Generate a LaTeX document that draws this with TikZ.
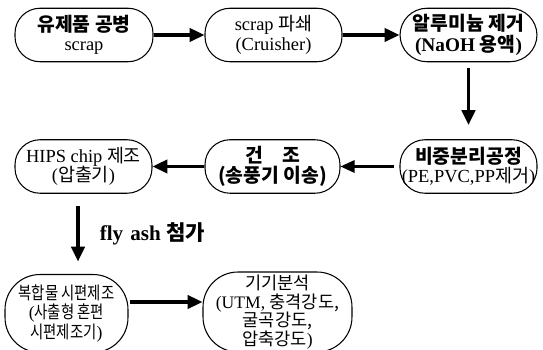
\documentclass[tikz,border=0pt]{standalone}
\usepackage{fontspec}
\setmainfont{Liberation Serif}
\newfontfamily\kr{Noto Sans CJK KR}
\newfontfamily\krn[FakeStretch=0.82]{Noto Sans CJK KR}
\usetikzlibrary{arrows.meta}
\newcommand\nodesize[2]{\fontsize{#1}{#2}\selectfont}
\begin{document}
\begin{tikzpicture}[x=0.02cm,y=-0.02cm,
proc/.style ={rectangle, draw, semithick, align=center,
  rounded corners=0.5cm, inner sep=1pt,
  minimum width=2.74cm, minimum height=1.07cm,
  font=\nodesize{10.5}{11}
},
tall/.style ={proc, rounded corners=0.7cm, minimum height=1.56cm},
flow/.style ={line width=2.2pt, -{Triangle[length=8.5pt,width=7.5pt]}},
thinflow/.style ={line width=1.3pt, -{Triangle[length=8pt,width=7pt]}}
]
\clip (0,0) rectangle (543,350);
% first row
\node (bottle) at (84,35) [proc, minimum width=2.76cm] {{\kr\bfseries\fontsize{11}{11}\selectfont 유제품 공병}\\scrap};
\node (crush) at (273.5,35) [proc] {scrap {\kr 파쇄}\\(Cruisher)};
\node (alu) at (468.5,35) [proc, rounded corners=0.54cm, font=\nodesize{11}{11.5}\bfseries] {{\kr 알루미늄 제거}\\(NaOH {\kr 용액})};
% second row
\node (sep) at (468.5,166.5) [proc] {{\kr\bfseries\fontsize{11}{11}\selectfont 비중분리공정}\\(PE,PVC,PP{\kr 제거})};
\node (dry) at (272.5,166.5) [proc, minimum width=2.7cm, font=\nodesize{11}{11.5}\bfseries] {{\kr 건}\hspace{1em}{\kr 조}\\{\kr (송풍기 이송)}};
\node (hips) at (83.5,166.5) [proc] {HIPS chip {\kr 제조}\\({\kr 압출기})};
% third row
\node (comp) at (66.5,313.5) [tall, minimum width=2.46cm, font=\nodesize{10}{11}] {{\krn 복합물 시편제조}\\({\krn 사출형 혼편}\\{\krn 시편제조기})};
\node (test) at (277.5,312) [tall, minimum width=2.98cm, minimum height=1.6cm, font=\nodesize{10}{10.5}] {{\kr 기기분석}\\(UTM, {\kr 충격강도,}\\{\kr 굴곡강도,}\\{\kr 압축강도})};
\coordinate (ashx) at (78,0);
\coordinate (mixy) at (0,302);
% arrows
\draw [flow] (bottle) -- (crush);
\draw [flow] (crush) -- (alu);
\draw [flow, shorten <=3pt, shorten >=8pt] (alu) -- (sep);
\draw [thinflow, shorten <=3pt] (sep) -- (dry);
\draw [flow] (dry) -- (hips);
\draw [flow, shorten <=7pt, shorten >=7pt] (hips.south -| ashx) -- (comp.north -| ashx)
  node [midway, right=8pt, font=\fontsize{12}{12}\selectfont\bfseries] {fly\,\,ash {\kr 첨가}};
\draw [flow, shorten <=1pt] (comp.east |- mixy) -- (test.west |- mixy);
\end{tikzpicture}
\end{document}
